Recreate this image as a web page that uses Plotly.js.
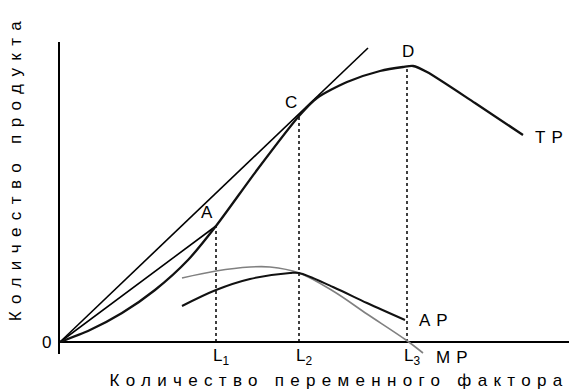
<!DOCTYPE html>
<html>
<head>
<meta charset="utf-8">
<script src="https://cdn.plot.ly/plotly-3.0.1.min.js"></script>
<style>
  html, body { margin: 0; padding: 0; background: #fff; }
  #chart { width: 569px; height: 391px; }
  .annotation[data-index="0"] .annotation-text { letter-spacing: 7.4px; }
  .annotation[data-index="1"] .annotation-text { letter-spacing: 6.3px; }
  .annotation[data-index="2"] .annotation-text,
  .annotation[data-index="3"] .annotation-text,
  .annotation[data-index="4"] .annotation-text { letter-spacing: 6px; }
</style>
</head>
<body>
<div id="chart"></div>
<script>
// Total product curve TP
const tpX = [0, 3.0, 6.2, 9.5, 12.8, 15.6, 19.7, 23.9, 25.7, 28.7, 32.0, 34.3, 35.3, 36.7, 41.5, 46.3];
const tpY = [0, 1.2, 2.9, 5.2, 8.2, 11.6, 17.2, 22.6, 24.4, 26.0, 27.1, 27.5, 27.6, 27.0, 23.9, 20.7];
// Ray from origin tangent at C
const tanX = [0, 30.8];
const tanY = [0, 29.4];
// Ray from origin to A
const rayX = [0, 15.6];
const rayY = [0, 11.6];
// Average product AP
const apX = [12.2, 15.6, 19.0, 23.0, 23.9, 27.3, 30.7, 34.5];
const apY = [3.6, 5.2, 6.3, 6.9, 6.9, 5.5, 3.9, 2.2];
// Marginal product MP
const mpX = [12.2, 15.6, 19.0, 21.0, 23.9, 27.3, 30.7, 34.6, 36.3];
const mpY = [6.4, 7.1, 7.5, 7.5, 6.9, 5.1, 2.8, 0.2, -1.1];
// Input levels L1, L2, L3 and TP at those levels
const levelX = [15.6, 23.9, 34.7];
const levelTP = [11.6, 22.6, 27.5];
const levelLabels = ['L<sub>1</sub>', 'L<sub>2</sub>', 'L<sub>3</sub>'];
// Points on TP
const pointLabels = ['A', 'C', 'D'];
const pointX = [14.7, 23.1, 34.8];
const pointY = [13.0, 24.0, 29.1];
// Curve labels
const curveLabels = ['TP', 'AP', 'MP'];
const curveLabelX = [49.2, 37.6, 39.5];
const curveLabelY = [20.5, 2.2, 0];

const ink = '#000000';
const fontFam = '"Liberation Sans", Arial, sans-serif';

const traces = [];
levelX.forEach((x, i) => {
  traces.push({x: [x, x], y: [0, levelTP[i]], mode: 'lines',
    line: {color: ink, width: 1.5, dash: 'dot'}, hoverinfo: 'skip', showlegend: false});
});
traces.push({x: tanX, y: tanY, mode: 'lines', line: {color: ink, width: 1.6}, showlegend: false});
traces.push({x: rayX, y: rayY, mode: 'lines', line: {color: ink, width: 1.6}, showlegend: false});
traces.push({x: mpX, y: mpY, mode: 'lines', line: {color: '#808080', width: 1.6, shape: 'spline', smoothing: 1}, showlegend: false});
traces.push({x: apX, y: apY, mode: 'lines', line: {color: '#111111', width: 2, shape: 'spline', smoothing: 1}, showlegend: false});
traces.push({x: tpX, y: tpY, mode: 'lines', line: {color: '#111111', width: 2.3, shape: 'spline', smoothing: 0.7}, showlegend: false});

const annotations = [
  {text: 'Количество продукта', x: 0, y: 17.4, xref: 'x', yref: 'y', xshift: -45, textangle: -90,
   showarrow: false, font: {family: fontFam, size: 17, color: ink}},
  {text: 'Количество переменного фактора', x: 27.9, y: 0, xref: 'x', yref: 'y', yshift: -38,
   showarrow: false, font: {family: fontFam, size: 17, color: ink}}
];
curveLabels.forEach((t, i) => {
  annotations.push({text: t, x: curveLabelX[i], y: curveLabelY[i], xref: 'x', yref: 'y',
    yshift: i === 2 ? -15 : 0, showarrow: false, font: {family: fontFam, size: 17, color: ink}});
});
annotations.push({text: '0', x: 0, y: 0, xref: 'x', yref: 'y', xshift: -14, showarrow: false,
  font: {family: fontFam, size: 17, color: ink}});
pointLabels.forEach((t, i) => {
  annotations.push({text: t, x: pointX[i], y: pointY[i], xref: 'x', yref: 'y', showarrow: false,
    font: {family: fontFam, size: 17, color: ink}});
});
levelLabels.forEach((t, i) => {
  annotations.push({text: t, x: levelX[i], y: 0, xref: 'x', yref: 'y', xshift: 5, yshift: -15, showarrow: false,
    font: {family: fontFam, size: 17, color: ink}});
});

const layout = {
  width: 569, height: 391,
  margin: {l: 60, r: 0, t: 42, b: 37},
  paper_bgcolor: '#ffffff', plot_bgcolor: '#ffffff',
  showlegend: false,
  xaxis: {range: [0, 50.9], showgrid: false, zeroline: false, showline: false,
    showticklabels: false, ticks: '', fixedrange: true},
  yaxis: {range: [-1.2, 30], showgrid: false, showline: true, linecolor: ink, linewidth: 2,
    zeroline: true, zerolinecolor: ink, zerolinewidth: 2,
    showticklabels: false, ticks: '', fixedrange: true},
  annotations: annotations
};

Plotly.newPlot('chart', traces, layout, {staticPlot: true, displayModeBar: false});
</script>
</body>
</html>
